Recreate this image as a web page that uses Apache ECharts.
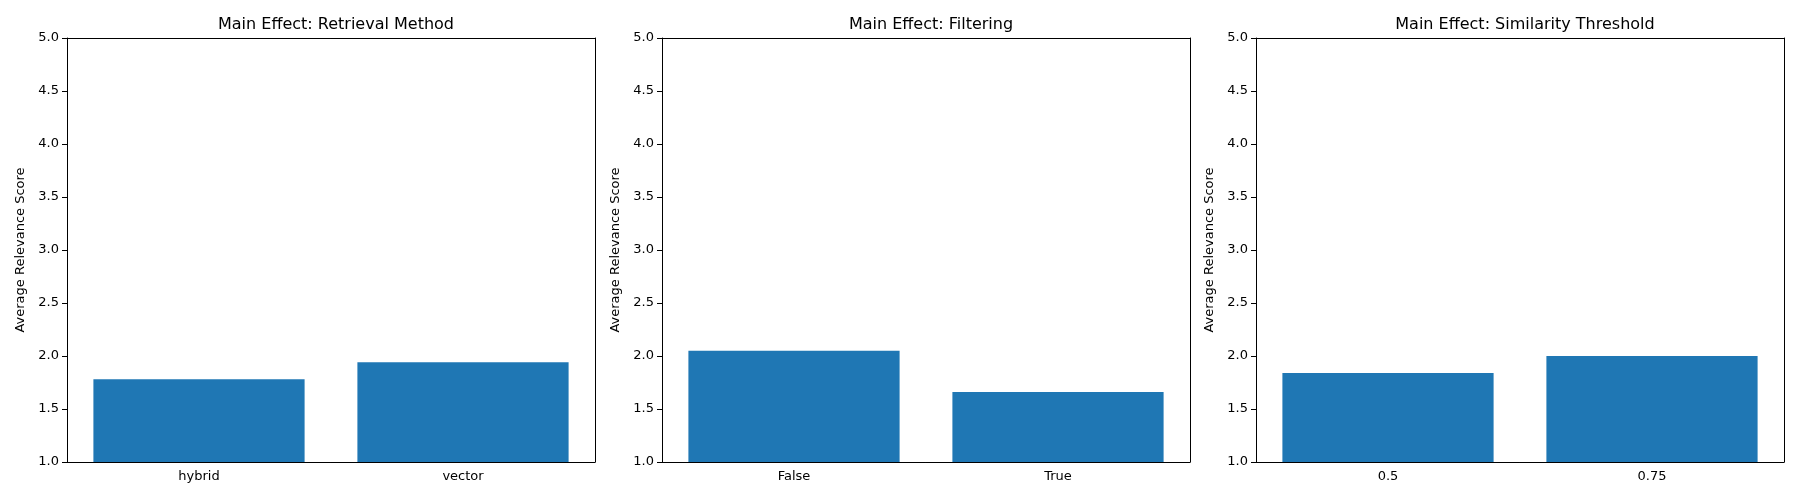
<!DOCTYPE html>
<html>
<head>
<meta charset="utf-8">
<script src="https://cdn.jsdelivr.net/npm/echarts@6/dist/echarts.min.js"></script>
<style>html,body{margin:0;padding:0;background:#fff}#main{width:1800px;height:500px}</style>
</head>
<body>
<div id="main"></div>
<script>
var titles = ['Main Effect: Retrieval Method', 'Main Effect: Filtering', 'Main Effect: Similarity Threshold'];
var methodCats = ['hybrid', 'vector'];
var methodVals = [1.78, 1.94];
var filterCats = ['False', 'True'];
var filterVals = [2.05, 1.66];
var threshCats = ['0.5', '0.75'];
var threshVals = [1.84, 2.00];
var yLabel = 'Average Relevance Score';

var cats = [methodCats, filterCats, threshCats];
var vals = [methodVals, filterVals, threshVals];
var lefts = [67, 662, 1256];
var font = 'DejaVu Sans';

var myChart = echarts.init(document.getElementById('main'));
var option = {
    animation: false,
    title: [], grid: [], xAxis: [], yAxis: [], series: []
};
for (var i = 0; i < 3; i++) {
    option.title.push({
        text: titles[i], left: lefts[i] + 264, top: 12, textAlign: 'center',
        textStyle: {fontFamily: font, fontSize: 16, fontWeight: 'normal', color: '#000'}
    });
    option.grid.push({left: lefts[i], top: 38, width: 528, height: 424});
    option.xAxis.push({
        type: 'category', gridIndex: i, data: cats[i],
        axisLine: {lineStyle: {color: '#000'}},
        axisTick: {alignWithLabel: true, length: 5, lineStyle: {color: '#000'}},
        axisLabel: {fontFamily: font, fontSize: 13, color: '#000', margin: 8}
    });
    option.yAxis.push({
        type: 'value', gridIndex: i, min: 1, max: 5, interval: 0.5,
        name: yLabel, nameLocation: 'middle', nameGap: 40,
        nameTextStyle: {fontFamily: font, fontSize: 13, color: '#000'},
        axisLine: {show: true, lineStyle: {color: '#000'}},
        axisTick: {show: true, length: 5, lineStyle: {color: '#000'}},
        axisLabel: {fontFamily: font, fontSize: 13, color: '#000', formatter: function (v) { return v.toFixed(1); }},
        splitLine: {show: false}
    });
    // top/right frame
    option.xAxis.push({
        type: 'category', gridIndex: i, position: 'top', data: cats[i],
        axisLine: {lineStyle: {color: '#000'}}, axisTick: {show: false}, axisLabel: {show: false}
    });
    option.yAxis.push({
        type: 'value', gridIndex: i, position: 'right', min: 1, max: 5,
        axisLine: {show: true, lineStyle: {color: '#000'}}, axisTick: {show: false},
        axisLabel: {show: false}, splitLine: {show: false}
    });
    option.series.push({
        type: 'bar', xAxisIndex: i * 2, yAxisIndex: i * 2, data: vals[i],
        barWidth: '80%', itemStyle: {color: '#1f77b4'}
    });
}
myChart.setOption(option);
</script>
</body>
</html>
